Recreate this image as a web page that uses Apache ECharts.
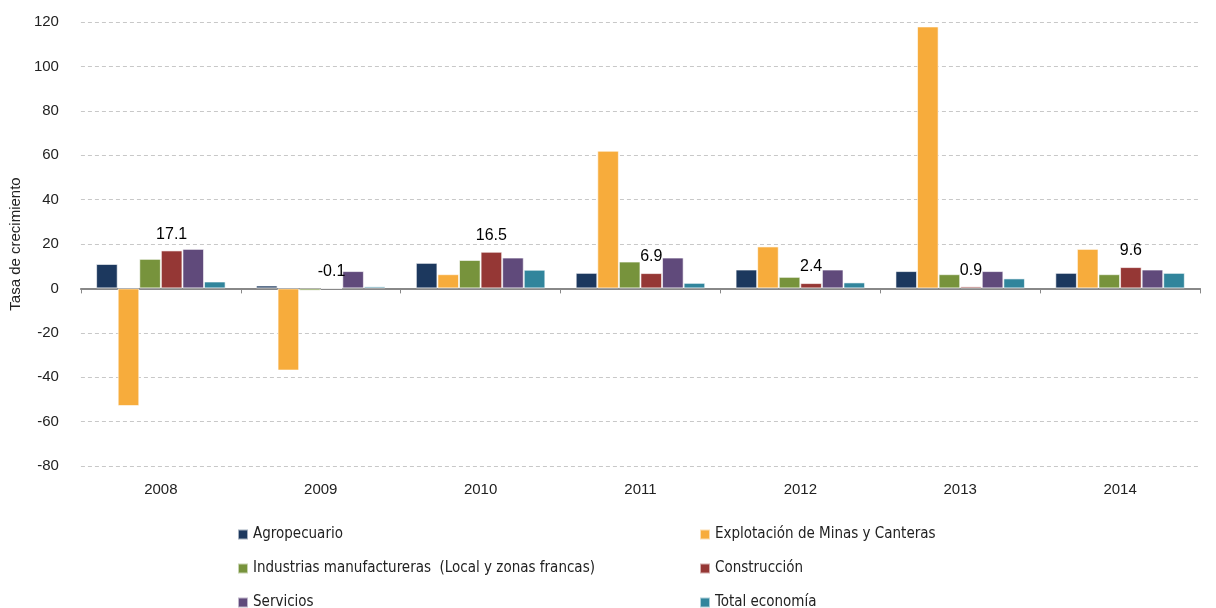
<!DOCTYPE html>
<html style="height: 100%;">
<head>
<meta charset="utf-8">
<title>Tasa de crecimiento por sector</title>
<script src="https://cdn.jsdelivr.net/npm/echarts@6/dist/echarts.min.js"></script>
</head>
<body style="height: 100%; margin: 0; background: #fff">
<div id="container" style="width: 1216px; height: 608px"></div>
<script>
var years = ['2008', '2009', '2010', '2011', '2012', '2013', '2014'];
var names = ['Agropecuario', 'Explotación de Minas y Canteras', 'Industrias manufactureras  (Local y zonas francas)', 'Construcción', 'Servicios', 'Total economía'];
var agro = [11, 1.3, 11.5, 7.0, 8.5, 7.8, 7.0];
var minas = [-53, -37, 6.4, 62, 18.9, 118, 17.8];
var industria = [13.3, -1.0, 12.8, 12.1, 5.2, 6.4, 6.4];
var construccion = [17.1, -0.1, 16.5, 6.9, 2.4, 0.9, 9.6];
var servicios = [17.8, 7.8, 13.9, 13.9, 8.5, 7.8, 8.5];
var total = [3.1, 0.9, 8.4, 2.5, 2.7, 4.5, 7.0];
var colors = ['#1c385e', '#f7ac3c', '#77933c', '#953735', '#604a7b', '#31859c'];

var chart = echarts.init(document.getElementById('container'));
var allData = [agro, minas, industria, construccion, servicios, total];
var series = allData.map(function (d, i) {
  var s = {
    name: names[i],
    type: 'bar',
    data: d,
    barGap: 0,
    barCategoryGap: '19%',
    itemStyle: { color: colors[i], borderColor: 'rgba(255,255,255,0.6)', borderWidth: 1 }
  };
  if (i === 3) {
    s.label = {
      show: true, position: 'top', distance: 8,
      color: '#000', fontSize: 16, fontFamily: 'Liberation Sans'
    };
  }
  return s;
});

var legendText = { color: '#222', fontSize: 15, fontFamily: "'Liberation Sans Narrow', 'DejaVu Sans Condensed', 'Roboto Condensed', sans-serif" };

chart.setOption({
  animation: false,
  color: colors,
  grid: { left: 80, right: 16, top: 22, bottom: 142 },
  legend: [
    { data: [names[0], names[2], names[4]], orient: 'vertical', left: 232, top: 522, height: 90,
      itemWidth: 10, itemHeight: 10, itemGap: 19, icon: 'rect', textStyle: legendText },
    { data: [names[1], names[3], names[5]], orient: 'vertical', left: 694, top: 522, height: 90,
      itemWidth: 10, itemHeight: 10, itemGap: 19, icon: 'rect', textStyle: legendText }
  ],
  xAxis: [
    { type: 'category', data: years, position: 'bottom',
      axisLine: { show: false, onZero: false }, axisTick: { show: false },
      axisLabel: { color: '#222', fontSize: 15, margin: 16, fontFamily: 'Liberation Sans' } },
    { type: 'category', data: years, position: 'bottom',
      axisLine: { show: true, onZero: true, lineStyle: { color: '#888', width: 2 } },
      axisTick: { show: true, length: 5, lineStyle: { color: '#888' } },
      axisLabel: { show: false } }
  ],
  yAxis: {
    type: 'value', min: -80, max: 120, interval: 20,
    name: 'Tasa de crecimiento', nameLocation: 'middle', nameGap: 54,
    nameTextStyle: { color: '#222', fontSize: 15, fontFamily: 'Liberation Sans' },
    axisLine: { show: false }, axisTick: { show: false },
    axisLabel: { color: '#222', fontSize: 15, margin: 22, fontFamily: 'Liberation Sans' },
    splitLine: { lineStyle: { color: '#c8c8c8', type: [4, 3], width: 1 } }
  },
  series: series
});
</script>
</body>
</html>
